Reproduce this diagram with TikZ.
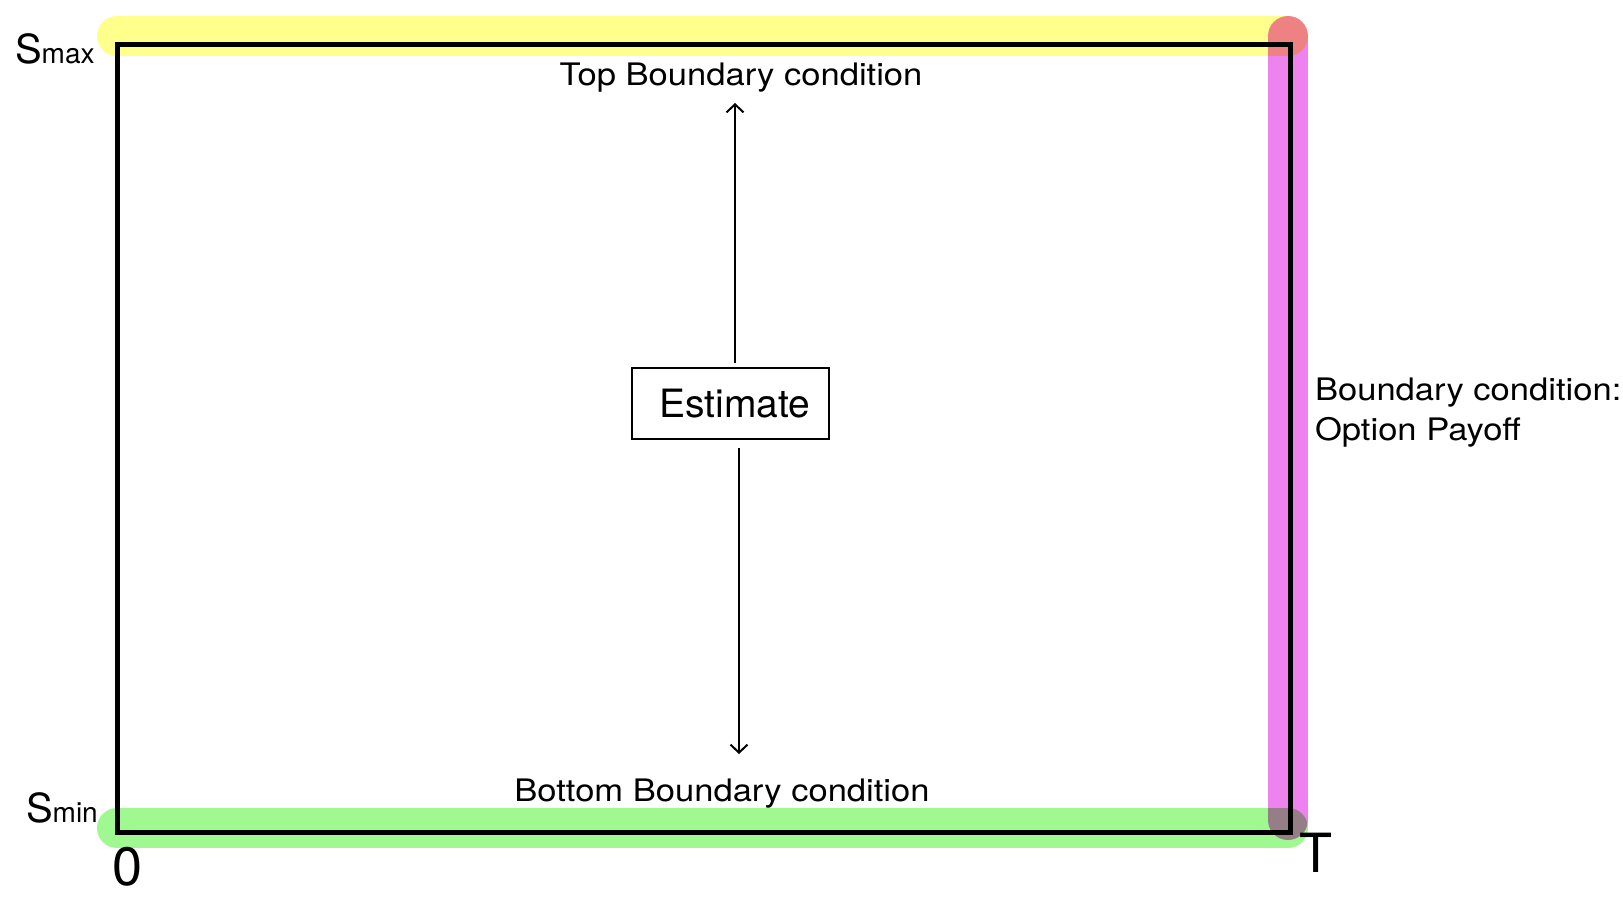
\documentclass[tikz,border=0pt]{standalone}
\usepackage{fontspec}
\setmainfont{TeX Gyre Heros}
\usepackage{graphicx}
\usetikzlibrary{arrows.meta}
\definecolor{bandyellow}{RGB}{255,255,140}
\definecolor{bandgreen}{RGB}{160,248,144}
\definecolor{bandviolet}{RGB}{238,130,238}
\newcommand{\smallfnt}{\fontsize{31}{39}\selectfont}
\newcommand{\wide}[1]{\scalebox{1.115}[1]{#1}}
\tikzset{
  band/.style={line width=40pt, line cap=round},
  lbl/.style={inner sep=0pt, outer sep=0pt, font=\smallfnt},
  arr/.style={line width=2pt, -{Straight Barb[length=8pt,width=17pt,line width=2pt]}},
}
\begin{document}
\begin{tikzpicture}[x=1pt,y=-1pt]
\useasboundingbox (0,0) rectangle (1623,902);
% coloured bands
\begin{scope}[blend mode=multiply]
  \draw[band, bandyellow] (117,36) -- (1288,36);
  \draw[band, bandgreen] (117,828) -- (1288,828);
  \draw[band, bandviolet] (1288,36) -- (1288,820);
\end{scope}
% domain rectangle
\draw[line width=5pt, miter limit=10] (117,44) rectangle (1290,832);
% axis labels
\node[lbl, anchor=base west] (smax) at (15,63) {\fontsize{40}{44}\selectfont S\fontsize{28}{32}\selectfont max};
\node[lbl, anchor=base west] (smin) at (26,822) {\fontsize{40}{44}\selectfont S\fontsize{28}{32}\selectfont min};
\node[lbl, anchor=base west, font=\fontsize{54}{60}\selectfont] (zero) at (112,885) {0};
\node[lbl, anchor=base west, font=\fontsize{54}{60}\selectfont] (tee) at (1299,872) {T};
% boundary labels
\node[lbl, anchor=base] (top) at (741,85) {\wide{Top Boundary condition}};
\node[lbl, anchor=base] (bot) at (722,801) {\wide{Bottom Boundary condition}};
\node[lbl, anchor=base west] (bc1) at (1315,400) {\wide{Boundary condition:}};
\node[lbl, anchor=base west] (bc2) at (1315,440) {\wide{Option Payoff}};
% estimate box
\node[draw, line width=2pt, inner sep=0pt, minimum width=197pt, minimum height=71pt,
      text height=28pt, text depth=0pt, font=\fontsize{39}{46}\selectfont] (est) at (730.5,403.5) {\hspace*{9pt}Estimate};
% arrows
\coordinate (upS) at (735,363);
\coordinate (upE) at (735,103);
\coordinate (dnS) at (739,448);
\coordinate (dnE) at (739,754);
\draw[arr] (upS) -- (upE);
\draw[arr] (dnS) -- (dnE);
\end{tikzpicture}
\end{document}
